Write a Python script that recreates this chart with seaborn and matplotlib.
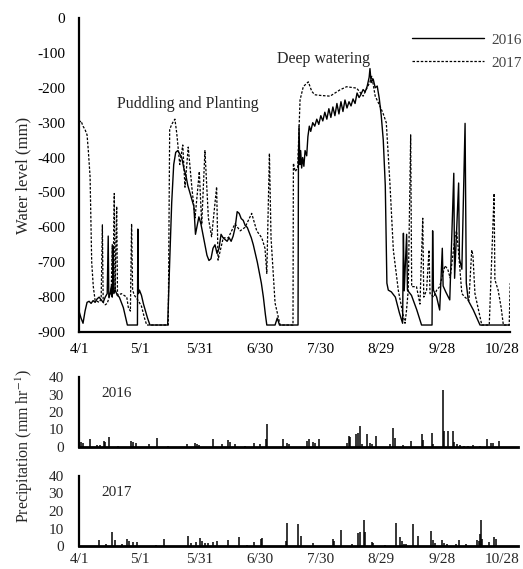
import numpy as np
import pandas as pd
import matplotlib
matplotlib.use("Agg")
import matplotlib.pyplot as plt
import seaborn as sns

# days since 4/1, water level in mm
wl16_day = [0, 1, 2, 3, 4, 5, 6, 7, 8, 9, 10, 11, 12, 13, 14, 14.5, 14.8, 15.5, 16, 16.5, 17, 17.3,
            18, 19, 20, 21, 22, 23, 24, 29, 29.2, 29.5, 30, 31, 32, 33, 34, 35.2, 44, 45, 46, 47, 48,
            49, 50, 51, 52, 53, 54, 55, 56, 57, 57.8, 58.5, 59.5, 60.5, 61.5, 62.5, 63.5, 64.5, 65.5,
            66.5, 67.5, 68.5, 69.5, 70.5, 71.5, 72.5, 73.5, 74.5, 75.5, 76.5, 77.5, 78.5, 79.5, 80.5,
            81.5, 82.5, 83.5, 84.5, 85.5, 86.5, 87.5, 88.5, 89.5, 90.5, 91.5, 92.5, 93.2, 97.3, 98.4,
            99.5, 108.7, 108.9, 109.2, 109.6, 110, 110.5, 111, 111.6, 112.2, 113, 113.6, 114.3, 115,
            116, 117, 118, 119, 120, 121, 122, 123, 124, 125, 126, 127, 128, 129, 130, 131, 132, 133,
            134, 135, 136, 137, 138, 139, 140, 141, 142, 143, 144, 144.4, 145, 146, 147, 148, 149, 150,
            151, 152, 152.8, 153.5, 155, 157, 159, 160.6, 161, 161.4, 162.6, 163, 165, 167.6, 170,
            175.2, 175.5, 175.9, 177.5, 179, 180.3, 180.7, 182, 184, 186, 186.4, 188.4, 188.8, 190,
            191.6, 192.2, 193.2, 195.7, 199, 214]
wl16_mm = [-840, -860, -875, -840, -815, -812, -818, -810, -815, -805, -800, -808, -815, -800, -790,
           -625, -800, -790, -770, -800, -655, -790, -780, -795, -800, -815, -830, -855, -880, -880,
           -605, -790, -780, -795, -820, -840, -860, -880, -880, -700, -530, -420, -385, -380, -390,
           -400, -430, -450, -480, -500, -520, -540, -620, -600, -570, -590, -620, -650, -680, -695,
           -690, -660, -650, -675, -660, -620, -630, -635, -640, -630, -640, -625, -600, -555, -560,
           -575, -580, -595, -600, -615, -630, -650, -675, -700, -730, -760, -800, -850, -880, -880,
           -860, -880, -880, -420, -310, -420, -380, -430, -400, -425, -380, -395, -340, -310, -325,
           -300, -310, -290, -305, -280, -295, -270, -290, -260, -285, -255, -280, -245, -275, -240,
           -268, -235, -258, -240, -252, -232, -245, -215, -228, -218, -205, -212, -196, -170, -145,
           -185, -175, -200, -195, -230, -280, -350, -480, -760, -780, -785, -800, -845, -875, -617,
           -782, -620, -780, -795, -836, -880, -880, -610, -780, -800, -837, -660, -768, -785, -808,
           -445, -746, -473, -690, -720, -302, -760, -810, -837, -880, -880]

wl17_day = [0, 1, 2, 3, 4, 4.6, 5.5, 6.3, 7.1, 8, 9, 10, 11, 11.6, 12, 13, 14, 15, 16, 16.5, 16.8,
            17.5, 17.9, 18.7, 19.1, 19.5, 21, 23.7, 24.5, 25.5, 26.1, 26.6, 27.5, 29.4, 31, 32.5, 33.6,
            44.3, 45, 46, 47, 47.6, 48.5, 50, 51.5, 52.6, 54.2, 56, 57.6, 59.7, 60.9, 62.5, 64.2, 65.8,
            68.3, 69, 71.6, 74.1, 77.4, 80, 82.4, 85.7, 88.2, 90.7, 92.3, 93.2, 94.5, 95.3, 97.3, 99.8,
            106.2, 106.4, 107.3, 108.5, 109.7, 111.3, 112.5, 113.8, 115.5, 117, 120, 124.6, 129.5,
            132.8, 137.8, 141, 144.4, 145.3, 147, 149.4, 151, 152.5, 154.3, 156, 158.5, 161, 161.8,
            162.5, 163.4, 164.6, 165.1, 167.5, 169.2, 170.6, 171.1, 172.5, 173.7, 174.2, 176, 177.5,
            179, 181.6, 183, 184.2, 186.6, 187.4, 188.2, 190, 191.5, 193.5, 194.9, 195.5, 196.5, 198,
            199.9, 203.6, 206, 206.4, 208, 209.5, 210.6, 213.5, 214]
wl17_mm = [-300, -295, -310, -320, -335, -378, -455, -700, -770, -810, -812, -815, -805, -593, -815,
           -822, -818, -800, -780, -650, -790, -503, -780, -540, -790, -795, -790, -800, -830, -840,
           -590, -780, -795, -810, -826, -860, -880, -880, -320, -305, -295, -290, -330, -420, -364,
           -485, -370, -485, -573, -440, -592, -380, -573, -627, -484, -694, -630, -630, -590, -610,
           -600, -560, -610, -630, -660, -732, -388, -630, -817, -880, -880, -416, -440, -430, -235,
           -197, -190, -183, -210, -220, -222, -224, -206, -197, -201, -224, -183, -167, -224, -253,
           -275, -300, -473, -665, -782, -856, -875, -840, -780, -335, -770, -770, -820, -574, -800,
           -780, -665, -790, -800, -780, -770, -710, -720, -745, -627, -610, -660, -790, -800, -810,
           -665, -680, -790, -830, -880, -880, -503, -750, -780, -830, -880, -880, -760]

# hourly precipitation peaks (mm/hr)
pr16_day = [1.0, 1.8, 5.5, 9.1, 10.4, 12.4, 13.1, 15.1, 19.5, 25.8, 26.9, 28.3, 34.6, 38.5, 44,
            53.4, 57.5, 58.4, 59.7, 66.6, 70.9, 74.1, 74.9, 77.4, 82.4, 86.8, 89.8, 92.6, 93.1, 101,
            103, 104, 113.3, 114.3, 116.3, 117.2, 119.1, 132.9, 134, 134.5, 137.6, 138.7, 139.7,
            140.4, 142.8, 144.5, 145.6, 147.4, 154.4, 156, 157, 161, 164.8, 170.1, 170.6, 175,
            175.9, 180.5, 181.2, 183, 185.5, 186.2, 187.5, 189, 191, 193, 195.4, 199, 202.7, 204.4,
            205.4, 208.2]
pr16_val = [3, 2.5, 4.3, 1, 1, 3.2, 3, 5.8, 0.5, 3.2, 3, 2.5, 2, 5, 0.5, 2, 2.5, 2, 1, 4.3, 1.5,
            4.2, 3, 2, 0.5, 2.5, 2, 4.3, 13.4, 4.3, 2.5, 2, 3.4, 4.3, 3, 2.5, 4.7, 2.5, 6.2, 6, 7.5,
            8, 11.9, 2, 7.4, 2.5, 2, 6.2, 2, 11, 4.9, 1, 3.2, 7.2, 4, 8, 2, 32.6, 9.4, 9.4, 9.4, 3,
            1.5, 1, 0.8, 0.8, 1, 0.5, 4.3, 2.5, 2.5, 3.2]

pr17_day = [10.1, 13.4, 16.2, 17.9, 21.2, 24, 24.9, 27, 29, 38.2, 42.4, 54.3, 55.5, 58.1, 60.1,
            60.9, 62.6, 64.2, 66.6, 68.3, 73.9, 79.4, 83.2, 86.8, 90.3, 90.9, 102.7, 103, 108.5, 110,
            116.3, 126.2, 126.7, 129.9, 135.3, 138.7, 139.5, 141.2, 141.8, 145.6, 146.1, 151.9,
            157.4, 159.3, 160.2, 161.3, 162.3, 165.6, 168.1, 174.9, 175.9, 176.9, 180, 181.2, 182.5,
            187.1, 188.4, 191.9, 197.7, 198.5, 199, 199.5, 200.2, 203.3, 206, 206.8]
pr17_val = [3.2, 1, 7.9, 3.2, 1, 3.8, 3, 2.3, 2.3, 0.5, 3.8, 6, 2, 2.3, 4.7, 3, 2, 2, 2.3, 3, 3.2,
            4.9, 0.5, 2.5, 4.2, 4.5, 3, 13, 12.3, 6, 2, 4, 3, 9.2, 1, 7.7, 8, 15, 8, 2.5, 1.5, 0.5,
            13.4, 5, 3, 1, 1, 12.3, 6, 8.3, 3.5, 2, 3.2, 2, 1, 1, 3.2, 1, 3.5, 3, 7, 15, 4, 2.3, 5, 4]

tick_days = [0, 30, 60, 90, 120, 150, 180, 210]
tick_labels = ["4/1", "5/1", "5/31", "6/30", "7/30", "8/29", "9/28", "10/28"]

sns.set_theme(style="white")
plt.rcParams["font.family"] = ["Liberation Serif", "DejaVu Serif"]
plt.rcParams["mathtext.fontset"] = "stix"
plt.rcParams["axes.unicode_minus"] = False
plt.rcParams["font.size"] = 11

W, H = 523, 569
fig = plt.figure(figsize=(W / 100, H / 100), dpi=100)

def box(x0, y0, x1, y1):
    return [x0 / W, 1 - y1 / H, (x1 - x0) / W, (y1 - y0) / H]

px_per_day = 2.015
ax = fig.add_axes(box(79, 18, 79 + 214 * px_per_day, 332))
ax1 = fig.add_axes(box(79, 377, 79 + 218 * px_per_day, 447))
ax2 = fig.add_axes(box(79, 476, 79 + 218 * px_per_day, 546))

# water level
sns.lineplot(x=wl16_day, y=wl16_mm, ax=ax, color="black", lw=1.0, label="2016", estimator=None)
sns.lineplot(x=wl17_day, y=wl17_mm, ax=ax, color="black", lw=0.9, linestyle=(0, (2, 1.3)),
             label="2017", estimator=None)
ax.set_xlim(0, 214)
ax.set_ylim(-900, 0)
ax.set_yticks(np.arange(-900, 1, 100))
ax.set_xticks(tick_days)
ax.set_xticklabels(tick_labels)
ax.set_ylabel("Water level (mm)", fontsize=12, labelpad=4)
ax.tick_params(axis="y", direction="in", length=4, width=1.2, colors="black", labelsize=11, pad=10)
ax.tick_params(axis="x", direction="in", length=4, width=1.2, colors="black", labelsize=11, pad=8)
ax.text(53.8, -246, "Puddling and Planting", ha="center", va="center", fontsize=11.5)
ax.text(121.3, -118, "Deep watering", ha="center", va="center", fontsize=11.5)
ax.legend(loc="upper right", bbox_to_anchor=(522 / W, 1 - 33 / H), bbox_transform=fig.transFigure,
          frameon=False, fontsize=11, handlelength=4.7, handletextpad=0.5, labelspacing=0.6,
          borderpad=0, borderaxespad=0, labelcolor="#444444")

# precipitation
for a, d, v, yr in [(ax1, pr16_day, pr16_val, "2016"), (ax2, pr17_day, pr17_val, "2017")]:
    a.vlines(d, 0, v, color="black", lw=1.1)
    a.set_xlim(0, 218)
    a.set_ylim(0, 40)
    a.set_yticks([0, 10, 20, 30, 40])
    a.set_xticks(tick_days)
    a.set_xticklabels(tick_labels)
    a.tick_params(axis="y", direction="in", length=4, width=1.2, labelsize=11, pad=11)
    a.tick_params(axis="x", length=0, labelsize=11, pad=5)
    a.text(0.052, 0.77, yr, transform=a.transAxes, fontsize=11, va="center")
ax1.set_xticklabels([])
fig.text(24 / W, 1 - 446 / H, "Precipitation (mm hr$^{-1}$)", rotation=90, ha="center", va="center",
         fontsize=11.5)

for a, bw in [(ax, 1.6), (ax1, 2.0), (ax2, 2.0)]:
    sns.despine(ax=a)
    a.spines["left"].set_linewidth(1.6)
    a.spines["bottom"].set_linewidth(bw)
    a.spines["left"].set_color("black")
    a.spines["bottom"].set_color("black")

fig.savefig("out.png", dpi=100)
